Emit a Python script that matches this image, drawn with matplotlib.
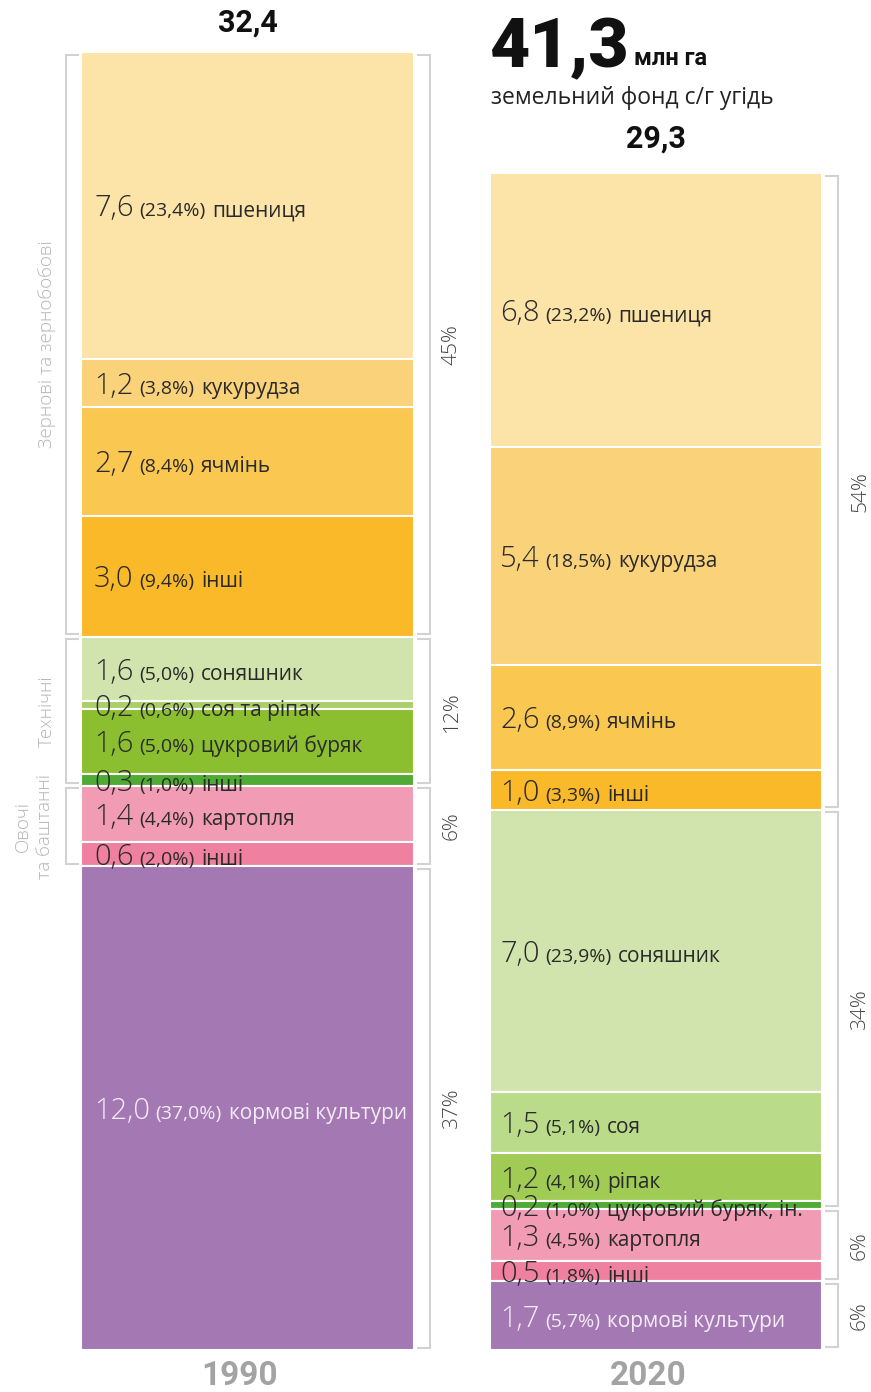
import matplotlib.pyplot as plt
import numpy as np

# площі, млн га (зверху вниз)
crops_1990 = ["пшениця", "кукурудза", "ячмінь", "інші", "соняшник", "соя та ріпак",
              "цукровий буряк", "інші", "картопля", "інші", "кормові культури"]
area_1990 = [7.6, 1.2, 2.7, 3.0, 1.6, 0.2, 1.6, 0.3, 1.4, 0.6, 12.0]
share_1990 = [23.4, 3.8, 8.4, 9.4, 5.0, 0.6, 5.0, 1.0, 4.4, 2.0, 37.0]
colors_1990 = ["#fce3a7", "#fad27a", "#fac750", "#f9b928", "#d1e4ad", "#a9cf68",
               "#8bbf2f", "#4fab33", "#f29bb5", "#ef809f", "#a478b3"]

crops_2020 = ["пшениця", "кукурудза", "ячмінь", "інші", "соняшник", "соя", "ріпак",
              "цукровий буряк, ін.", "картопля", "інші", "кормові культури"]
area_2020 = [6.8, 5.4, 2.6, 1.0, 7.0, 1.5, 1.2, 0.2, 1.3, 0.5, 1.7]
share_2020 = [23.2, 18.5, 8.9, 3.3, 23.9, 5.1, 4.1, 1.0, 4.5, 1.8, 5.7]
colors_2020 = ["#fce3a7", "#fad27a", "#fac750", "#f9b928", "#d1e4ad", "#badb89",
               "#a0cb55", "#4fab33", "#f29bb5", "#ef809f", "#a478b3"]

totals = ["32,4", "29,3"]
years = ["1990", "2020"]

# групи: кількість сегментів у групі
group_sizes = [4, 4, 2, 1]
group_names = ["Зернові та зернобобові", "Технічні", "Овочі\nта баштанні", None]
group_pct_1990 = ["45%", "12%", "6%", "37%"]
group_pct_2020 = ["54%", "34%", "6%", "6%"]

W, H = 871, 1392
PX = 40.3          # пікселів на 1 млн га
BASE = 1350        # низ стовпців, px від верху

fig = plt.figure(figsize=(W / 100, H / 100), dpi=100)
ax = fig.add_axes([0, 0, 1, 1])
ax.set_xlim(0, W)
ax.set_ylim(-(H - BASE) / PX, BASE / PX)
ax.axis("off")

LBL_FONT = "Open Sans"
TITLE_FONT = "Roboto"
DARK = "#2a2a2a"
BRACKET = "#d2d2d2"


def fmt(v):
    return f"{v:.1f}".replace(".", ",")


def draw_bar(xc, width, vals, shares, names, colors, text_x):
    top = sum(vals)
    bottoms = top - np.cumsum(vals)
    ax.bar(xc, vals, bottom=bottoms, width=width, color=colors,
           edgecolor="white", linewidth=1.5)
    for v, s, n, b, c in zip(vals, shares, names, bottoms, colors):
        col = "#f3ecf6" if c == "#a478b3" else DARK
        yb = b + v / 2 - 11 / PX
        t = ax.text(text_x, yb, fmt(v), fontsize=21, color=col, family=LBL_FONT,
                    fontweight="light", va="baseline", ha="left")
        t2 = ax.annotate(f"({fmt(s)}%)", xy=(1, yb), xycoords=(t, "data"),
                         xytext=(4, 0), textcoords="offset points", fontsize=14,
                         color=col, family=LBL_FONT,
                         va="baseline", ha="left")
        ax.annotate(n, xy=(1, yb), xycoords=(t2, "data"),
                    xytext=(5, 0), textcoords="offset points", fontsize=15,
                    color=col, family=LBL_FONT, va="baseline", ha="left")
    return top, bottoms


def bracket(x_line, x_tick, y0, y1):
    g = 2.5 / PX
    ax.plot([x_tick, x_line, x_line, x_tick], [y1 - g, y1 - g, y0 + g, y0 + g],
            color=BRACKET, lw=1.5, solid_joinstyle="miter")


top1, bot1 = draw_bar(247.5, 333, area_1990, share_1990, crops_1990, colors_1990, 94)
top2, bot2 = draw_bar(656, 332, area_2020, share_2020, crops_2020, colors_2020, 500)

# групові дужки
i = 0
for size, name, p1, p2 in zip(group_sizes, group_names, group_pct_1990, group_pct_2020):
    j = i + size
    y1a = top1 if i == 0 else bot1[i - 1]
    y0a = bot1[j - 1]
    y1b = top2 if i == 0 else bot2[i - 1]
    y0b = bot2[j - 1]
    bracket(430, 418, y0a, y1a)
    ax.text(452, (y0a + y1a) / 2, p1, rotation=90, ha="center", va="center",
            fontsize=15, color="#444444", family=LBL_FONT, fontweight="light")
    bracket(838, 826, y0b, y1b)
    ax.text(860, (y0b + y1b) / 2, p2, rotation=90, ha="center", va="center",
            fontsize=15, color="#444444", family=LBL_FONT, fontweight="light")
    if name is not None:
        bracket(66, 78, y0a, y1a)
        xl = 47 if "\n" not in name else 34
        ax.text(xl, (y0a + y1a) / 2, name, rotation=90, ha="center", va="center",
                fontsize=13.5, color="#b4b4b4", family=LBL_FONT, fontweight="light",
                linespacing=1.25, multialignment="center")
    i = j

# підсумки над стовпцями
ax.text(247.5, top1 + 30 / PX, totals[0], ha="center", va="center", fontsize=22,
        fontweight="bold", family=TITLE_FONT, color="#111111")
ax.text(656, top2 + 35 / PX, totals[1], ha="center", va="center", fontsize=22,
        fontweight="bold", family=TITLE_FONT, color="#111111")

# роки
for xc, yr in zip([240, 648], years):
    ax.text(xc, -26 / PX, yr, ha="center", va="center", fontsize=24,
            fontweight="bold", family=TITLE_FONT, color="#a3a3a3")

# заголовок
t41 = fig.text(490 / W, 1 - 67 / H, "41,3", fontsize=50, fontweight="heavy",
               family=TITLE_FONT, color="#111111", va="baseline", ha="left")
ax.annotate("млн га", xy=(1, 1 - 65 / H), xycoords=(t41, "figure fraction"),
            xytext=(3, 0), textcoords="offset points", fontsize=17,
            fontweight="bold", family=TITLE_FONT, color="#111111", va="baseline")
fig.text(491 / W, 1 - 104 / H, "земельний фонд с/г угідь", fontsize=16.5,
         family=LBL_FONT, color="#222222", va="baseline", ha="left")

fig.savefig("out.png", dpi=100)
